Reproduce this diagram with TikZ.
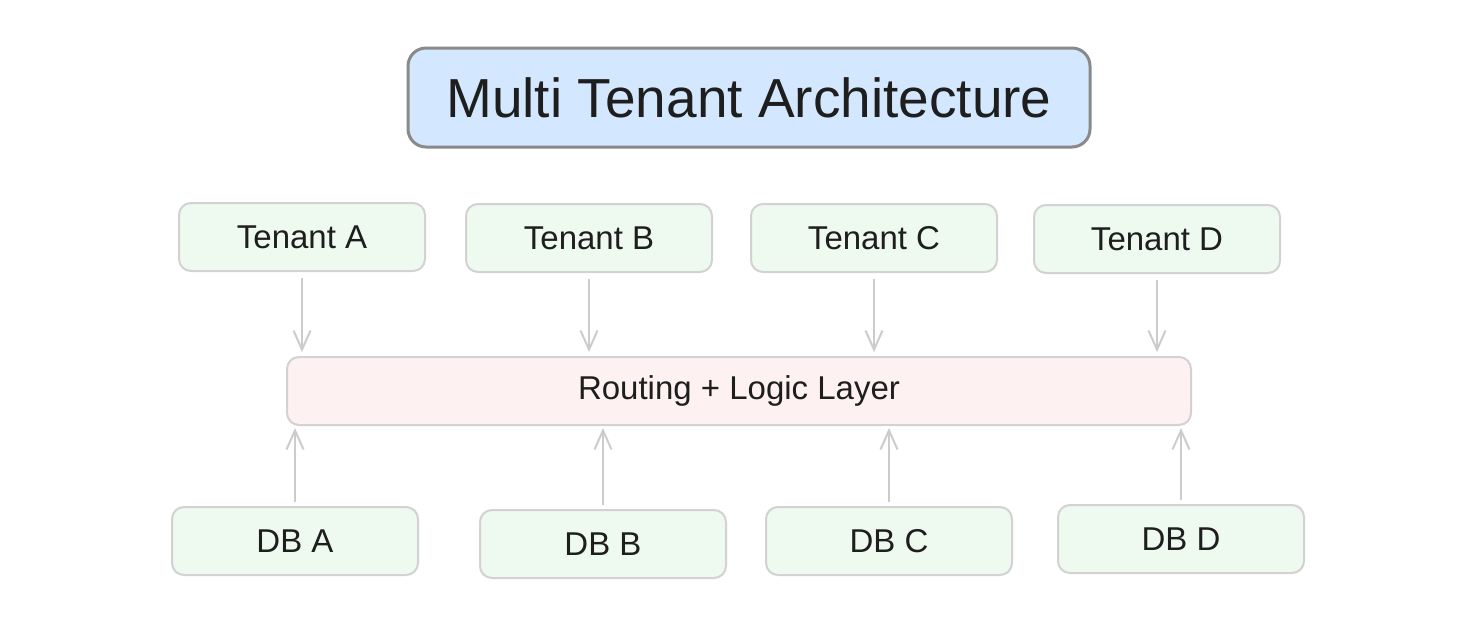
\documentclass[tikz,border=0pt]{standalone}
\usepackage{fontspec}
\setmainfont{Liberation Sans}
\usetikzlibrary{arrows.meta}
\definecolor{titlefill}{HTML}{D3E8FE}
\definecolor{titledraw}{HTML}{8A8A8A}
\definecolor{greenfill}{HTML}{EEF9F0}
\definecolor{pinkfill}{HTML}{FDF1F1}
\definecolor{boxdraw}{HTML}{D2D2D2}
\definecolor{arrowcol}{HTML}{CCCCCC}
\definecolor{txt}{HTML}{1E1E1E}
\begin{document}
\begin{tikzpicture}[x=1pt,y=-1pt,
  box/.style={draw=boxdraw, line width=2pt, rounded corners=12pt, text=txt,
    font=\fontsize{33}{38}\selectfont, inner sep=0pt},
  greenbox/.style={box, fill=greenfill, minimum width=246pt, minimum height=68pt},
  pinkbox/.style={box, fill=pinkfill, minimum width=904pt, minimum height=68pt},
  titlebox/.style={box, draw=titledraw, line width=3pt, rounded corners=18pt, fill=titlefill,
    minimum width=682pt, minimum height=99pt, font=\fontsize{55}{62}\selectfont},
  flow/.style={draw=arrowcol, line width=2pt,
    -{Straight Barb[length=19pt, width=17pt, line width=2pt]}}]
\fill[white] (0,0) rectangle (1474,641);
\useasboundingbox (0,0) rectangle (1474,641);

\node[titlebox] (title) at (749,97.5) {Multi Tenant Architecture};

\node[greenbox] (ta) at (302,237) {Tenant A};
\node[greenbox] (tb) at (589,238) {Tenant B};
\node[greenbox] (tc) at (874,238) {Tenant C};
\node[greenbox] (td) at (1157,239) {Tenant D};

\node[pinkbox] (r) at (739,391) {Routing + Logic Layer};

\node[greenbox] (da) at (295,541) {DB A};
\node[greenbox] (db) at (603,544) {DB B};
\node[greenbox] (dc) at (889,541) {DB C};
\node[greenbox] (dd) at (1181,539) {DB D};

\foreach \t in {ta,tb,tc,td}
  \draw[flow, shorten <=6pt, shorten >=4pt] (\t.south) -- (\t.south |- r.north);
\foreach \d in {da,db,dc,dd}
  \draw[flow, shorten <=4pt, shorten >=2pt] (\d.north) -- (\d.north |- r.south);
\end{tikzpicture}
\end{document}
